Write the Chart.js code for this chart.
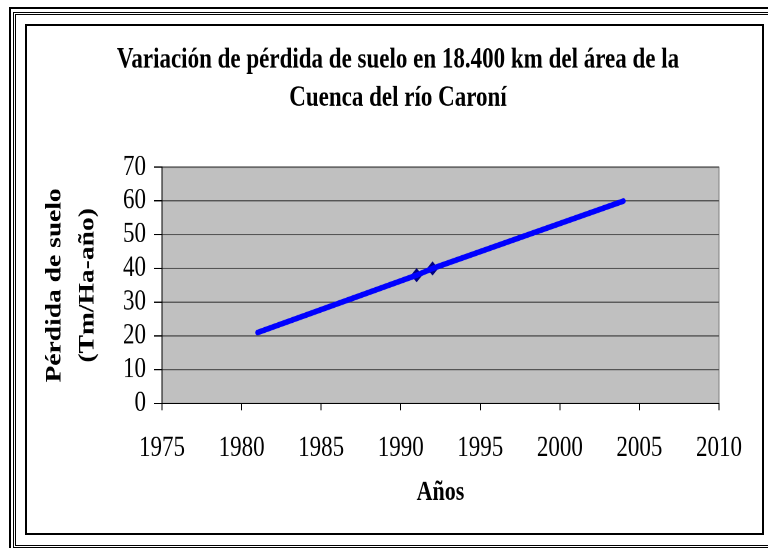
<!DOCTYPE html>
<html>
<head>
<meta charset="utf-8">
<script src="https://cdn.jsdelivr.net/npm/chart.js@4"></script>
<style>
  html, body { margin: 0; padding: 0; background: #fff; overflow: hidden; }
  body { width: 768px; height: 548px; position: relative; }
  /* the reference is stretched vertically, so the chart is drawn shorter and scaled up */
  #wrap { position: absolute; left: 0; top: 0; width: 768px; height: 438px; transform: scaleY(1.2511); transform-origin: 0 0; }
  .frame { position: absolute; box-sizing: border-box; border-style: solid; border-color: #000; }
</style>
</head>
<body>
<div id="wrap"><canvas id="chart"></canvas></div>
<div class="frame" style="left:9px;top:7px;width:800px;height:600px;border-width:2px;"></div>
<div class="frame" style="left:13px;top:12px;width:770px;height:536px;border-width:1px;"></div>
<div class="frame" style="left:15px;top:14px;width:770px;height:532px;border-width:1px;"></div>
<div class="frame" style="left:25px;top:24px;width:739px;height:511px;border-width:2px;"></div>
<script>
const years = [1981, 1991, 1992, 2004];
const soilLoss = [21, 38, 40, 60];
const markedYears = [1991, 1992];
const markedLoss = [38, 40];
const xTicks = [1975, 1980, 1985, 1990, 1995, 2000, 2005, 2010];
const yTicks = [0, 10, 20, 30, 40, 50, 60, 70];

const serif = "'Liberation Serif', 'Times New Roman', serif";

// grey plot area with a thin grey border, like the old Excel charts
const plotArea = {
  id: 'plotArea',
  beforeDraw(chart) {
    const { ctx, chartArea: a } = chart;
    ctx.save();
    ctx.fillStyle = '#c0c0c0';
    ctx.fillRect(a.left, a.top, a.right - a.left, a.bottom - a.top);
    ctx.strokeStyle = '#808080';
    ctx.lineWidth = 1;
    ctx.strokeRect(a.left, a.top, a.right - a.left, a.bottom - a.top);
    ctx.restore();
  }
};

new Chart(document.getElementById('chart'), {
  type: 'scatter',
  data: {
    datasets: [
      {
        data: years.map((x, i) => ({ x, y: soilLoss[i] })),
        showLine: true,
        borderColor: '#0000ff',
        borderWidth: 4.5,
        borderCapStyle: 'round',
        pointRadius: 0,
        xAxisID: 'x',
        yAxisID: 'y',
        order: 0
      },
      {
        data: markedYears.map((x, i) => ({ x, y: markedLoss[i] })),
        showLine: false,
        pointStyle: 'rectRot',
        pointRadius: 5,
        backgroundColor: '#000080',
        borderColor: '#000080',
        borderWidth: 1,
        xAxisID: 'x',
        yAxisID: 'y',
        order: 1
      }
    ]
  },
  options: {
    responsive: true,
    maintainAspectRatio: false,
    devicePixelRatio: 2,
    animation: false,
    events: [],
    layout: { padding: { top: 33, left: 30, right: 2, bottom: 0 } },
    plugins: {
      legend: { display: false },
      tooltip: { enabled: false },
      title: {
        display: true,
        text: ['Variación de pérdida de suelo en 18.400 km del área de la', 'Cuenca del río Caroní'],
        color: '#000',
        font: { family: serif, size: 23, weight: 'bold', lineHeight: 1.32 },
        padding: { top: 0, bottom: 40 }
      }
    },
    scales: {
      x: {
        type: 'linear',
        position: 'bottom',
        min: xTicks[0],
        max: xTicks[xTicks.length - 1],
        afterBuildTicks: s => { s.ticks = xTicks.map(v => ({ value: v })); },
        ticks: {
          padding: 16.5,
          color: '#000',
          maxRotation: 0,
          autoSkip: false,
          font: { family: serif, size: 23 },
          callback: v => String(v)
        },
        grid: { drawOnChartArea: false, tickLength: 5.6, tickColor: '#000', color: '#000' },
        border: { color: '#000', width: 1 },
        title: {
          display: true,
          text: 'Años',
          color: '#000',
          font: { family: serif, size: 22, weight: 'bold', lineHeight: 1.2 },
          padding: { top: 0, bottom: 31 }
        },
        afterFit: s => { s.height = 115.6; }
      },
      y: {
        type: 'linear',
        position: 'left',
        min: yTicks[0],
        max: yTicks[yTicks.length - 1],
        afterBuildTicks: s => { s.ticks = yTicks.map(v => ({ value: v })); },
        ticks: {
          padding: 8,
          color: '#000',
          autoSkip: false,
          font: { family: serif, size: 23 }
        },
        grid: {
          color: c => (c.tick && c.tick.value === 0 ? '#000' : '#555'),
          tickColor: '#000',
          tickLength: 8
        },
        border: { color: '#000', width: 1 },
        title: {
          display: true,
          text: ['Pérdida de suelo', '(Tm/Ha-año)'],
          color: '#000',
          font: { family: serif, size: 22, weight: 'bold', lineHeight: 1.5 },
          padding: { top: 8.5, bottom: 0 }
        },
        afterFit: s => { s.width = 132; }
      },
      // empty axis on the right, only keeps the plot narrower than the title box
      y2: {
        position: 'right',
        display: true,
        grid: { display: false },
        border: { display: false },
        ticks: { display: false },
        afterFit: s => { s.width = 47; }
      }
    }
  },
  plugins: [plotArea]
});
</script>
</body>
</html>
